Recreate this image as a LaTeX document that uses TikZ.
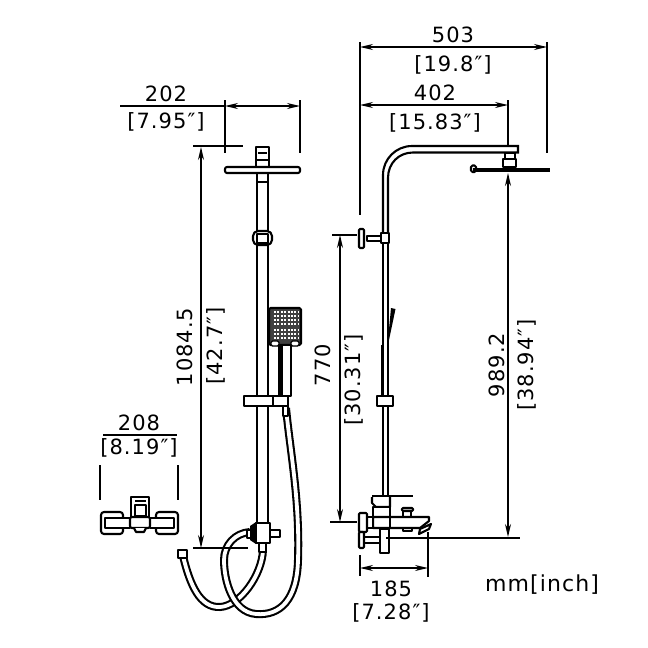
\documentclass[tikz,border=0pt]{standalone}
\usepackage{fontspec}
\setmainfont[LetterSpace=5]{DejaVu Sans}
\usetikzlibrary{arrows.meta}
\tikzset{
  x=1pt,y=-1pt,
  part/.style={draw=black,line width=2.1pt,fill=white,line join=round},
  pipe/.style={draw=black,line width=2.1pt},
  dim/.style={draw=black,line width=1.5pt},
  dima/.style={dim,{Stealth[length=13pt,width=6pt]}-{Stealth[length=13pt,width=6pt]}},
  lab/.style={font=\fontsize{21}{24}\selectfont,inner sep=0pt},
  hoseo/.style={draw=black,line width=8pt},
  hosei/.style={draw=white,line width=3.8pt},
}
\begin{document}
\begin{tikzpicture}
\useasboundingbox (0,0) rectangle (648,648);
\fill[white] (0,0) rectangle (648,648);

% ---------- left elevation: hoses behind
\def\hoseA{(286,408) .. controls (290,450) and (300,500) .. (298,560) .. controls (297,600) and (280,616) .. (256,614) .. controls (232,612) and (224,580) .. (224,560) .. controls (224,545) and (235,533) .. (250,532)}
\def\hoseB{(263,550) .. controls (262,575) and (240,606) .. (220,607) .. controls (200,608) and (190,585) .. (183,556)}
\draw[hoseo] \hoseB;
\draw[hosei] \hoseB;
\draw[hoseo] \hoseA;
\draw[hosei] \hoseA;
\draw[part] (178,550) rectangle (187,558);

% pole
\draw[pipe] (257,160) -- (257,523) (268,160) -- (268,523);
\draw[pipe,line width=1.5pt] (257,182) -- (268,182);
\draw[part] (256,147) rectangle (269,160);
\draw[pipe] (258,153) -- (267,153);
\draw[part] (256,160) rectangle (269,168);
\draw[part,rounded corners=2pt] (225,167) rectangle (300,173);
% joint
\draw[part,rounded corners=5pt] (253,231) rectangle (272,245);
\draw[part] (257,234) rectangle (268,243);
% handset
\draw[part,fill=black!75,rounded corners=1.5pt] (269,308) rectangle (301,345);
\foreach \yy in {312,316,320,324,330,334,338}
  \draw[white,line width=1.4pt,dash pattern=on 2pt off 1.4pt] (274,\yy) -- (299,\yy);
\draw[part,line width=1.4pt,rounded corners=1.5pt] (271,341) rectangle (279,346);
\draw[part,line width=1.4pt,rounded corners=1.5pt] (291,341) rectangle (299,346);
\draw[part] (279,345) rectangle (291,396);
\draw[pipe,line width=3.5pt] (281,346) -- (281,396);
% slider
\draw[part] (244,396) rectangle (288,406);
\draw[pipe] (273,396) -- (273,406);
\draw[part] (283,406) rectangle (288,416);
% valve
\draw[part] (270,530) rectangle (280,537);
\draw[part] (247,530) rectangle (256,538);
\fill[black] (250,526) -- (256,522) -- (256,544) -- (250,540) -- cycle;
\draw[part] (259,543) rectangle (266,552);
\draw[part] (256,523) rectangle (270,543);

% ---------- small mixer
\draw[part] (131,497) rectangle (149,518);
\draw[part] (135,505) rectangle (146,516);
\draw[pipe,line width=1.2pt] (135,501) -- (146,501);
\draw[part,rounded corners=3pt] (101,512) rectangle (123,534);
\draw[part,rounded corners=3pt] (156,512) rectangle (178,534);
\draw[part] (105,518) rectangle (130,528);
\draw[part] (150,518) rectangle (174,528);
\draw[part,rounded corners=2pt] (130,517) rectangle (150,528);
\draw[part] (134,528) -- (136,532) -- (144,532) -- (146,528);

% ---------- right elevation
% pole and arc
\draw[pipe] (383,233) -- (383,175) .. controls (383,159) and (396,146) .. (412,146) -- (518,146) -- (518,152.5) -- (413,152.5) .. controls (399,152.5) and (388,163) .. (388,178) -- (388,233);
\draw[pipe] (383,243) -- (383,396) (388,243) -- (388,396);
\draw[pipe] (383,406) -- (383,497) (388,406) -- (388,497);
\draw[pipe,line width=3pt] (382,345) -- (382,396);
% head
\draw[part] (505,153) rectangle (515,159);
\draw[part] (503,159) rectangle (516,167);
\draw[part,rounded corners=1.5pt] (471,165.5) rectangle (476,172);
\draw[black,line width=4.5pt] (473,170) -- (550,170);
% side valve
\draw[part] (367,236) rectangle (381,241);
\draw[part,rounded corners=1pt] (359,229) rectangle (364,248);
\draw[part] (381,233) rectangle (389,243);
% small handset
\fill[black] (391,308) -- (395.5,309) -- (389,340) -- (388,340) -- cycle;
% slider
\draw[part] (377,396) rectangle (393,406);
% mixer
\draw[pipe] (372,496) -- (413,496);
\draw[part] (372,497) -- (372,503) -- (376,507) -- (390,507) -- (390,497);
\draw[part] (373,507) rectangle (390,517);
\draw[part] (403,511) rectangle (411,517);
\draw[part,rounded corners=1pt] (402,508) rectangle (413,511);
\draw[part] (420,529) -- (431,524) -- (429,529) -- (419,534) -- cycle;
\draw[part] (403,528) rectangle (412,531);
\draw[part] (373,517) -- (429,517) -- (429,521) -- (420,528) -- (373,528) -- cycle;
\draw[pipe] (390,517) -- (390,528);
\draw[part] (367,517) rectangle (373,528);
\draw[part] (380,529) rectangle (389,553);
\draw[part] (364,537) rectangle (380,543);
\draw[part,rounded corners=1pt] (359,513) rectangle (367,532);
\draw[part,rounded corners=1pt] (359,532) rectangle (364,548);

% ---------- named anchors of dimension lines
\coordinate (a202l) at (225,106); \coordinate (a202r) at (300,106);
\coordinate (v1t) at (201,147); \coordinate (v1b) at (201,548);
\coordinate (a503l) at (360,47); \coordinate (a503r) at (547,47);
\coordinate (a402l) at (360,105); \coordinate (a402r) at (508,105);
\coordinate (v2t) at (340,235); \coordinate (v2b) at (340,522);
\coordinate (v3t) at (508,173); \coordinate (v3b) at (508,537);
\coordinate (a185l) at (360,568); \coordinate (a185r) at (428,568);

% dimension lines
\draw[dim] (120,106) -- (225,106);
\draw[dima] (a202l) -- (a202r);
\draw[dim] (225,100) -- (225,153) (300,100) -- (300,153);
\draw[dim] (193,146) -- (243,146) (193,548) -- (248,548);
\draw[dima] (v1t) -- (v1b);
\draw[dima] (a503l) -- (a503r);
\draw[dima] (a402l) -- (a402r);
\draw[dim] (360,42) -- (360,215) (547,42) -- (547,153) (508,100) -- (508,146);
\draw[dima] (v2t) -- (v2b);
\draw[dim] (332,235) -- (357,235) (330,522) -- (357,522);
\draw[dima] (v3t) -- (v3b);
\draw[dim] (386,538) -- (520,538);
\draw[dima] (a185l) -- (a185r);
\draw[dim] (360,555) -- (360,576) (428,532) -- (428,577);
\draw[dim] (103,435) -- (177,435);
\draw[dim] (100,465) -- (100,500) (178,465) -- (178,500);

% labels
\node[lab] (t202) at (166,94) {202};
\node[lab] (t795) at (166,122) {[7.95″]};
\node[lab] (t503) at (453,35) {503};
\node[lab] (t198) at (453,65) {[19.8″]};
\node[lab] (t402) at (435,93) {402};
\node[lab] (t1583) at (435,123) {[15.83″]};
\node[lab,rotate=90] (t1084) at (185,347) {1084.5};
\node[lab,rotate=90] (t427) at (216,346) {[42.7″]};
\node[lab,rotate=90] (t770) at (323,365) {770};
\node[lab,rotate=90] (t3031) at (354,380) {[30.31″]};
\node[lab,rotate=90] (t989) at (497,365) {989.2};
\node[lab,rotate=90] (t3894) at (527,365) {[38.94″]};
\node[lab] (t208) at (139,423) {208};
\node[lab] (t819) at (139,448) {[8.19″]};
\node[lab] (t185) at (391,589) {185};
\node[lab] (t728) at (391,613) {[7.28″]};
\node[lab,anchor=west,font=\fontsize{22}{24}\selectfont] (tmm) at (485,585) {mm[inch]};
\end{tikzpicture}
\end{document}
